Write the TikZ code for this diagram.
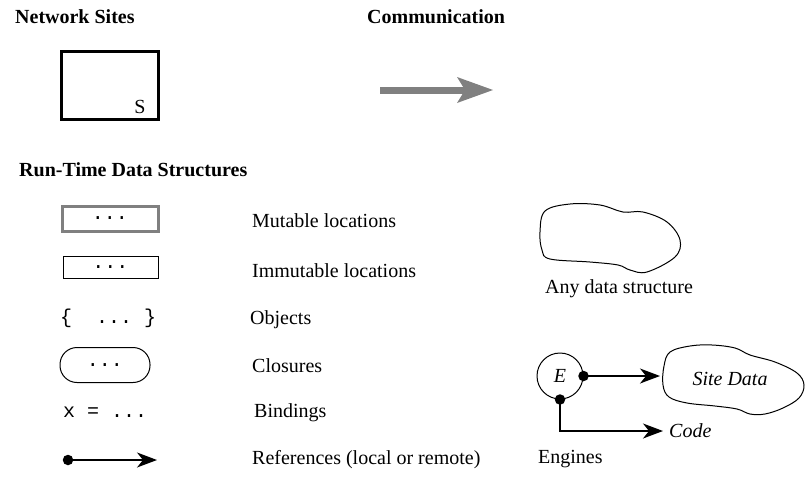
\documentclass[tikz,border=0pt]{standalone}
\usepackage{fontspec}
\setmainfont{Liberation Serif}
\setmonofont{Liberation Mono}
\usetikzlibrary{arrows.meta}
\newcommand\legendfont{\fontsize{20}{24}\selectfont}
\tikzset{
  heading/.style={anchor=west, inner sep=0pt, font=\legendfont\bfseries},
  caption/.style={anchor=west, inner sep=0pt, font=\legendfont},
  cellbox/.style={draw, line width=1pt, inner sep=0pt, font=\legendfont\ttfamily},
  refarrow/.style={line width=1.3pt, -{Stealth[length=20pt,width=15pt,inset=6pt]}},
  refdot/.style={circle, fill, inner sep=0pt, minimum size=10.5pt},
  blob/.style={line width=1pt},
}
\begin{document}
\begin{tikzpicture}[x=1pt, y=-1pt]
  \useasboundingbox (0,0) rectangle (809,477);
  % headings
  \node[heading] (sites) at (15,17) {Network Sites};
  \node[heading] (comm) at (367,17) {Communication};
  \node[heading] (rtds) at (19,170) {Run-Time Data Structures};
  % a site
  \node[draw, line width=3pt, minimum width=97, minimum height=68] (site) at (110,85) {};
  \node[font=\legendfont, anchor=south east] (sname) at ([shift={(-11,-3)}]site.south east) {S};
  % communication
  \coordinate (c0) at (380,90);
  \coordinate (c1) at (493,90);
  \draw[gray, line width=7pt, -{Stealth[length=36pt,width=26pt,inset=8pt,line width=0pt]}] (c0) -- (c1);
  % the glyphs
  \node[cellbox, draw=gray, line width=3pt, minimum width=96, minimum height=25] (mut) at (110,218.5) {...};
  \node[cellbox, minimum width=95, minimum height=22] (imm) at (110.5,267) {...};
  \node[font=\legendfont\ttfamily, inner sep=0pt, anchor=west] (obj) at (60,318) {\{\ \ ...\ \}};
  \node[cellbox, rounded corners=17pt, minimum width=90, minimum height=35] (clo) at (105,365) {...};
  \node[font=\legendfont\ttfamily, inner sep=0pt, anchor=west] (bind) at (63,412) {x = ...};
  \node[refdot] (rd) at (68,460) {};
  \coordinate (rt) at (157,460);
  \draw[refarrow] (rd.center) -- (rt);
  % captions
  \node[caption] at (252,221) {Mutable locations};
  \node[caption] at (252,271) {Immutable locations};
  \node[caption] at (250,320) {Objects};
  \node[caption] at (252,366) {Closures};
  \node[caption] at (254,413) {Bindings};
  \node[caption] at (252,460) {References (local or remote)};
  % any data structure
  \draw[blob] plot[smooth cycle, tension=0.6] coordinates {(545,211) (570,204) (600,205) (623,212) (643,212) (667,222) (680,240) (675,257) (647,272) (630,270) (618,265) (590,262) (550,259) (542,250) (540,232)};
  \node[caption] at (545,289) {Any data structure};
  % engine
  \node[draw, circle, line width=1pt, minimum size=46, inner sep=0pt, font=\legendfont\itshape] (eng) at (560,376) {E};
  \node[refdot] (ed) at (eng.east) {};
  \node[refdot] (cd) at (eng.south) {};
  \draw[blob] plot[smooth cycle, tension=0.6] coordinates {(670,352) (690,346) (712,345) (735,348) (750,355) (775,362) (797,373) (804,385) (799,398) (783,408) (765,414) (750,414) (737,409) (715,406) (687,403) (669,397) (663,385) (664,366)};
  \node[font=\legendfont\itshape] (sdata) at (730,379) {Site Data};
  \coordinate (st) at (660,376);
  \coordinate (cb) at (560,431);
  \coordinate (ct) at (663,431);
  \draw[refarrow] (ed.center) -- (st);
  \draw[refarrow] (cd.center) -- (cb) -- (ct);
  \node[caption, font=\legendfont\itshape] (code) at (669,431) {Code};
  \node[caption] at (538,459) {Engines};
\end{tikzpicture}
\end{document}
